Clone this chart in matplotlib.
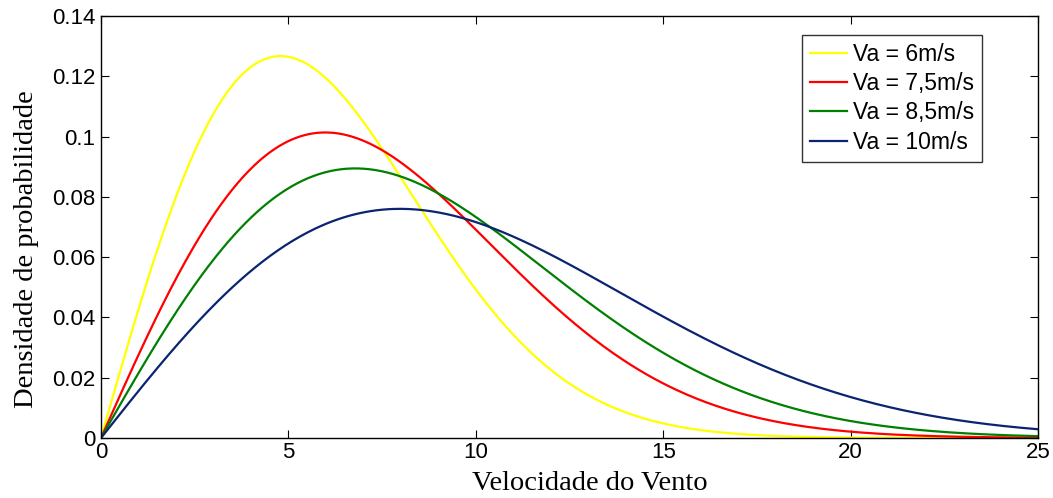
import numpy as np
import matplotlib
matplotlib.use('Agg')
import matplotlib.pyplot as plt

# Mean wind speeds (Rayleigh distribution parameter) from the legend
va_values = [6, 7.5, 8.5, 10]
labels = ['Va = 6m/s', 'Va = 7,5m/s', 'Va = 8,5m/s', 'Va = 10m/s']
colors = ['#ffff00', '#ff0000', '#008000', '#0a2472']

x_ticks = [0, 5, 10, 15, 20, 25]
y_ticks = [0, 0.02, 0.04, 0.06, 0.08, 0.1, 0.12, 0.14]
y_ticklabels = ['0', '0.02', '0.04', '0.06', '0.08', '0.1', '0.12', '0.14']

v = np.linspace(0, 25, 500)

fig = plt.figure(figsize=(10.53, 4.98), dpi=100)
ax = fig.add_axes([0.0959, 0.1205, 0.8899, 0.8474])

for va, lab, c in zip(va_values, labels, colors):
    pdf = (np.pi * v / (2 * va**2)) * np.exp(-np.pi * v**2 / (4 * va**2))
    ax.plot(v, pdf, color=c, lw=1.6, label=lab)

ax.set_xlim(0, 25)
ax.set_ylim(0, 0.14)
ax.set_xticks(x_ticks)
ax.set_yticks(y_ticks)
ax.set_yticklabels(y_ticklabels)
ax.tick_params(direction='in', length=6, width=0.8, labelsize=16, pad=3,
               top=True, right=True)
ax.tick_params(axis='y', pad=4)
for lbl in ax.get_xticklabels() + ax.get_yticklabels():
    lbl.set_family('Liberation Sans')
for s in ax.spines.values():
    s.set_linewidth(1.0)

ax.set_xlabel('Velocidade do Vento', family='Liberation Serif', fontsize=20.5)
ax.set_ylabel('Densidade de probabilidade', family='Liberation Serif', fontsize=20.5)
ax.xaxis.set_label_coords(0.522, -0.078)
ax.yaxis.set_label_coords(-0.066, 0.448)

leg = ax.legend(loc='upper right', bbox_to_anchor=(0.94, 0.955),
                prop={'family': 'Liberation Sans', 'size': 16.5},
                frameon=True, fancybox=False, handlelength=1.6,
                handletextpad=0.25, labelspacing=0.27, borderpad=0.35,
                borderaxespad=0)
leg.get_frame().set_edgecolor('black')
leg.get_frame().set_linewidth(1.0)

fig.savefig('out.png', dpi=100)
